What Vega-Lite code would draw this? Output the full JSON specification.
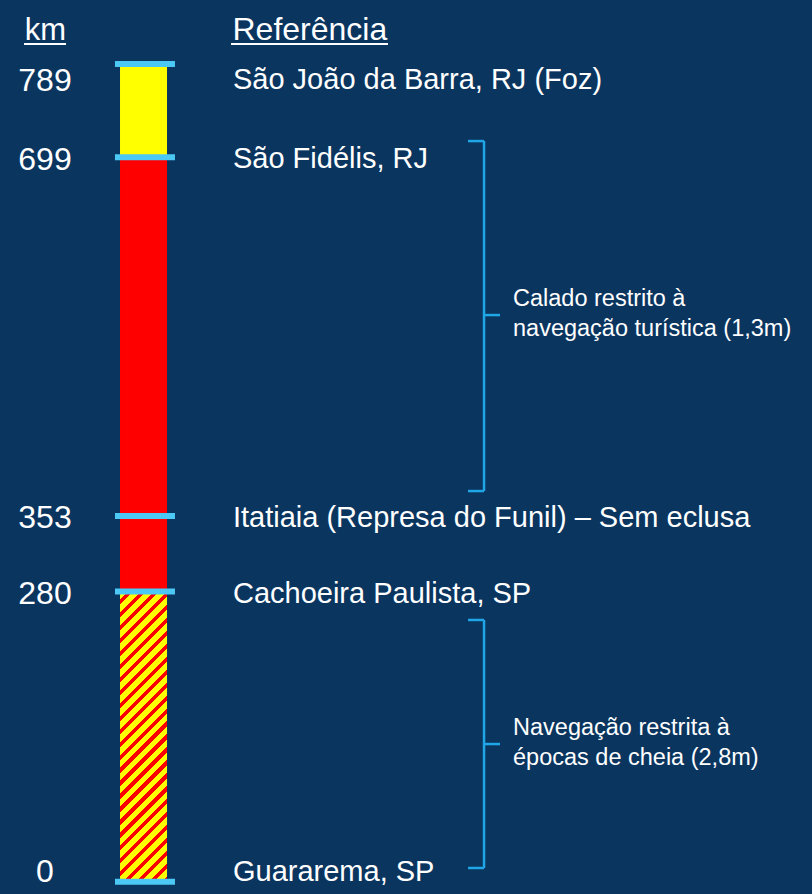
{
  "$schema": "https://vega.github.io/schema/vega-lite/v6.json",
  "width": 812,
  "height": 894,
  "autosize": "none",
  "padding": 0,
  "background": "#0A355F",
  "config": {
    "view": {"stroke": null},
    "axis": {"domain": false, "ticks": false, "labels": false, "grid": false, "titleColor": "#FFFFFF", "titleFontSize": 32, "titleFont": "Liberation Sans", "titleFontWeight": "normal"},
    "text": {"font": "Liberation Sans", "color": "#FFFFFF"}
  },
  "resolve": {"axis": {"x": "independent", "y": "independent"}},
  "datasets": {
    "pontos": [
      {"km": 789, "local": "São João da Barra, RJ (Foz)"},
      {"km": 699, "local": "São Fidélis, RJ"},
      {"km": 353, "local": "Itatiaia (Represa do Funil) – Sem eclusa"},
      {"km": 280, "local": "Cachoeira Paulista, SP"},
      {"km": 0, "local": "Guararema, SP"}
    ],
    "trechos": [
      {"de": 0, "ate": 280, "trecho": "cheia"},
      {"de": 280, "ate": 699, "trecho": "turistica"},
      {"de": 699, "ate": 789, "trecho": "foz"}
    ],
    "notas": [
      {"topo": 714.7, "base": 377, "meio": 546.8, "texto": ["Calado restrito à", "navegação turística (1,3m)"]},
      {"topo": 252.6, "base": 13.3, "meio": 132.9, "texto": ["Navegação restrita à", "épocas de cheia (2,8m)"]}
    ]
  },
  "layer": [
    {
      "data": {"name": "trechos"},
      "transform": [{"filter": "datum.trecho != 'cheia'"}],
      "mark": {"type": "rect"},
      "encoding": {
        "y": {"field": "de", "type": "quantitative", "scale": {"domain": [-11.8, 850.8], "nice": false, "zero": false}, "axis": null},
        "y2": {"field": "ate"},
        "x": {"datum": 14.78, "type": "quantitative", "scale": {"domain": [0, 100], "nice": false, "zero": false}, "axis": null},
        "x2": {"datum": 20.57},
        "color": {"field": "trecho", "type": "nominal", "scale": {"domain": ["turistica", "foz"], "range": ["#FF0000", "#FFFF00"]}, "legend": null}
      }
    },
    {
      "data": {"name": "trechos"},
      "transform": [{"filter": "datum.trecho == 'cheia'"}],
      "mark": {
        "type": "rect",
        "fill": {
          "gradient": "linear", "x1": 0, "y1": 0, "x2": 0.1834, "y2": 1.1323,
          "stops": [
            {"offset": 0, "color": "#FFFF00"}, {"offset": 0.0231, "color": "#FFFF00"}, {"offset": 0.0231, "color": "#FF0000"}, {"offset": 0.0385, "color": "#FF0000"},
            {"offset": 0.0385, "color": "#FFFF00"}, {"offset": 0.0615, "color": "#FFFF00"}, {"offset": 0.0615, "color": "#FF0000"}, {"offset": 0.0769, "color": "#FF0000"},
            {"offset": 0.0769, "color": "#FFFF00"}, {"offset": 0.1, "color": "#FFFF00"}, {"offset": 0.1, "color": "#FF0000"}, {"offset": 0.1154, "color": "#FF0000"},
            {"offset": 0.1154, "color": "#FFFF00"}, {"offset": 0.1385, "color": "#FFFF00"}, {"offset": 0.1385, "color": "#FF0000"}, {"offset": 0.1538, "color": "#FF0000"},
            {"offset": 0.1538, "color": "#FFFF00"}, {"offset": 0.1769, "color": "#FFFF00"}, {"offset": 0.1769, "color": "#FF0000"}, {"offset": 0.1923, "color": "#FF0000"},
            {"offset": 0.1923, "color": "#FFFF00"}, {"offset": 0.2154, "color": "#FFFF00"}, {"offset": 0.2154, "color": "#FF0000"}, {"offset": 0.2308, "color": "#FF0000"},
            {"offset": 0.2308, "color": "#FFFF00"}, {"offset": 0.2538, "color": "#FFFF00"}, {"offset": 0.2538, "color": "#FF0000"}, {"offset": 0.2692, "color": "#FF0000"},
            {"offset": 0.2692, "color": "#FFFF00"}, {"offset": 0.2923, "color": "#FFFF00"}, {"offset": 0.2923, "color": "#FF0000"}, {"offset": 0.3077, "color": "#FF0000"},
            {"offset": 0.3077, "color": "#FFFF00"}, {"offset": 0.3308, "color": "#FFFF00"}, {"offset": 0.3308, "color": "#FF0000"}, {"offset": 0.3462, "color": "#FF0000"},
            {"offset": 0.3462, "color": "#FFFF00"}, {"offset": 0.3692, "color": "#FFFF00"}, {"offset": 0.3692, "color": "#FF0000"}, {"offset": 0.3846, "color": "#FF0000"},
            {"offset": 0.3846, "color": "#FFFF00"}, {"offset": 0.4077, "color": "#FFFF00"}, {"offset": 0.4077, "color": "#FF0000"}, {"offset": 0.4231, "color": "#FF0000"},
            {"offset": 0.4231, "color": "#FFFF00"}, {"offset": 0.4462, "color": "#FFFF00"}, {"offset": 0.4462, "color": "#FF0000"}, {"offset": 0.4615, "color": "#FF0000"},
            {"offset": 0.4615, "color": "#FFFF00"}, {"offset": 0.4846, "color": "#FFFF00"}, {"offset": 0.4846, "color": "#FF0000"}, {"offset": 0.5, "color": "#FF0000"},
            {"offset": 0.5, "color": "#FFFF00"}, {"offset": 0.5231, "color": "#FFFF00"}, {"offset": 0.5231, "color": "#FF0000"}, {"offset": 0.5385, "color": "#FF0000"},
            {"offset": 0.5385, "color": "#FFFF00"}, {"offset": 0.5615, "color": "#FFFF00"}, {"offset": 0.5615, "color": "#FF0000"}, {"offset": 0.5769, "color": "#FF0000"},
            {"offset": 0.5769, "color": "#FFFF00"}, {"offset": 0.6, "color": "#FFFF00"}, {"offset": 0.6, "color": "#FF0000"}, {"offset": 0.6154, "color": "#FF0000"},
            {"offset": 0.6154, "color": "#FFFF00"}, {"offset": 0.6385, "color": "#FFFF00"}, {"offset": 0.6385, "color": "#FF0000"}, {"offset": 0.6538, "color": "#FF0000"},
            {"offset": 0.6538, "color": "#FFFF00"}, {"offset": 0.6769, "color": "#FFFF00"}, {"offset": 0.6769, "color": "#FF0000"}, {"offset": 0.6923, "color": "#FF0000"},
            {"offset": 0.6923, "color": "#FFFF00"}, {"offset": 0.7154, "color": "#FFFF00"}, {"offset": 0.7154, "color": "#FF0000"}, {"offset": 0.7308, "color": "#FF0000"},
            {"offset": 0.7308, "color": "#FFFF00"}, {"offset": 0.7538, "color": "#FFFF00"}, {"offset": 0.7538, "color": "#FF0000"}, {"offset": 0.7692, "color": "#FF0000"},
            {"offset": 0.7692, "color": "#FFFF00"}, {"offset": 0.7923, "color": "#FFFF00"}, {"offset": 0.7923, "color": "#FF0000"}, {"offset": 0.8077, "color": "#FF0000"},
            {"offset": 0.8077, "color": "#FFFF00"}, {"offset": 0.8308, "color": "#FFFF00"}, {"offset": 0.8308, "color": "#FF0000"}, {"offset": 0.8462, "color": "#FF0000"},
            {"offset": 0.8462, "color": "#FFFF00"}, {"offset": 0.8692, "color": "#FFFF00"}, {"offset": 0.8692, "color": "#FF0000"}, {"offset": 0.8846, "color": "#FF0000"},
            {"offset": 0.8846, "color": "#FFFF00"}, {"offset": 0.9077, "color": "#FFFF00"}, {"offset": 0.9077, "color": "#FF0000"}, {"offset": 0.9231, "color": "#FF0000"},
            {"offset": 0.9231, "color": "#FFFF00"}, {"offset": 0.9462, "color": "#FFFF00"}, {"offset": 0.9462, "color": "#FF0000"}, {"offset": 0.9615, "color": "#FF0000"},
            {"offset": 0.9615, "color": "#FFFF00"}, {"offset": 0.9846, "color": "#FFFF00"}, {"offset": 0.9846, "color": "#FF0000"}, {"offset": 1, "color": "#FF0000"}
          ]
        }
      },
      "encoding": {
        "y": {"field": "de", "type": "quantitative", "axis": null},
        "y2": {"field": "ate"},
        "x": {"datum": 14.78, "type": "quantitative", "axis": null},
        "x2": {"datum": 20.57}
      }
    },
    {
      "data": {"name": "pontos"},
      "mark": {"type": "rule", "stroke": "#4CC8F5", "strokeWidth": 6, "strokeCap": "butt"},
      "encoding": {
        "y": {"field": "km", "type": "quantitative", "axis": null},
        "x": {"datum": 14.16, "type": "quantitative", "axis": null},
        "x2": {"datum": 21.55}
      }
    },
    {
      "data": {"name": "pontos"},
      "mark": {"type": "text", "align": "center", "baseline": "middle", "fontSize": 32, "dy": {"expr": "datum.km == 789 ? 17 : datum.km == 0 ? -10 : 2.5"}},
      "encoding": {
        "y": {"field": "km", "type": "quantitative", "axis": {"title": "km", "orient": "left", "titleAngle": 0, "titleX": 45, "titleY": 39, "titleAlign": "center", "titleBaseline": "alphabetic", "titleFontSize": 31, "titleFontWeight": 400, "titleFont": "Liberation Sans", "titleColor": "#FFFFFF"}},
        "x": {"datum": 5.54, "type": "quantitative", "axis": null},
        "text": {"field": "km", "type": "quantitative"}
      }
    },
    {
      "data": {"name": "pontos"},
      "mark": {"type": "text", "align": "left", "baseline": "middle", "fontSize": 29, "dy": {"expr": "datum.km == 789 ? 16 : datum.km == 0 ? -10 : 2"}},
      "encoding": {
        "y": {"field": "km", "type": "quantitative", "axis": null},
        "x": {"datum": 28.69, "type": "quantitative", "axis": {"title": "Referência", "orient": "top", "titleX": 232, "titleY": 39, "titleAlign": "left", "titleBaseline": "alphabetic", "titleAngle": 0, "titleFontSize": 32, "titleFontWeight": 400, "titleFont": "Liberation Sans", "titleColor": "#FFFFFF"}},
        "text": {"field": "local", "type": "nominal"}
      }
    },
    {
      "data": {"name": "notas"},
      "mark": {"type": "rule", "stroke": "#1FA6E6", "strokeWidth": 2.5},
      "encoding": {
        "y": {"field": "topo", "type": "quantitative", "axis": null},
        "y2": {"field": "base"},
        "x": {"datum": 59.61, "type": "quantitative", "axis": null}
      }
    },
    {
      "data": {"name": "notas"},
      "mark": {"type": "rule", "stroke": "#1FA6E6", "strokeWidth": 2.5},
      "encoding": {
        "y": {"field": "topo", "type": "quantitative", "axis": null},
        "x": {"datum": 57.64, "type": "quantitative", "axis": null},
        "x2": {"datum": 59.61}
      }
    },
    {
      "data": {"name": "notas"},
      "mark": {"type": "rule", "stroke": "#1FA6E6", "strokeWidth": 2.5},
      "encoding": {
        "y": {"field": "base", "type": "quantitative", "axis": null},
        "x": {"datum": 57.64, "type": "quantitative", "axis": null},
        "x2": {"datum": 59.61}
      }
    },
    {
      "data": {"name": "notas"},
      "mark": {"type": "rule", "stroke": "#1FA6E6", "strokeWidth": 2.5},
      "encoding": {
        "y": {"field": "meio", "type": "quantitative", "axis": null},
        "x": {"datum": 59.61, "type": "quantitative", "axis": null},
        "x2": {"datum": 61.58}
      }
    },
    {
      "data": {"name": "notas"},
      "mark": {"type": "text", "align": "left", "baseline": "middle", "fontSize": 23.5, "lineHeight": 30, "dy": -16},
      "encoding": {
        "y": {"field": "meio", "type": "quantitative", "axis": null},
        "x": {"datum": 63.18, "type": "quantitative", "axis": null},
        "text": {"field": "texto", "type": "nominal"}
      }
    },
    {
      "data": {"values": [{}]},
      "mark": {"type": "rule", "stroke": "#FFFFFF", "strokeWidth": 2},
      "encoding": {
        "y": {"datum": 808.3, "type": "quantitative", "axis": null},
        "x": {"datum": 2.96, "type": "quantitative", "axis": null},
        "x2": {"datum": 8.13}
      }
    },
    {
      "data": {"values": [{}]},
      "mark": {"type": "rule", "stroke": "#FFFFFF", "strokeWidth": 2},
      "encoding": {
        "y": {"datum": 808.3, "type": "quantitative", "axis": null},
        "x": {"datum": 28.45, "type": "quantitative", "axis": null},
        "x2": {"datum": 47.78}
      }
    }
  ]
}
